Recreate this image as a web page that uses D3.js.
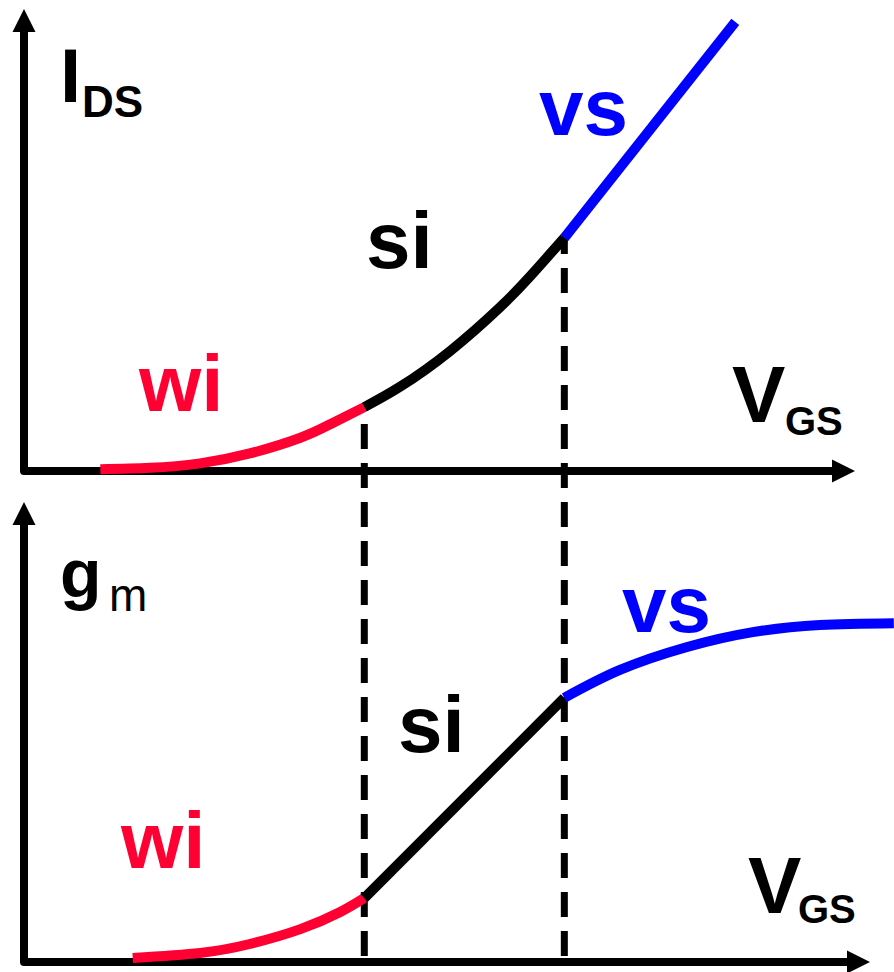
<!DOCTYPE html>
<html>
<head>
<meta charset="utf-8">
<script src="https://cdn.jsdelivr.net/npm/d3@7"></script>
<style>
  html, body { margin: 0; padding: 0; background: #fff; }
  svg { display: block; }
  text { font-family: "Liberation Sans", Arial, sans-serif; }
</style>
</head>
<body>
<div id="chart"></div>
<script>
// Gate voltage (arbitrary units) where the operating regions meet
const boundaries = [4.10, 6.51];

// Drain current I_DS versus V_GS, one array per inversion region
const idsWeak   = [[0.92, 0.04], [1.52, 0.07], [2.12, 0.17], [2.72, 0.39], [3.33, 0.74], [3.69, 1.04], [4.10, 1.42]];
const idsStrong = [[4.10, 1.42], [4.53, 1.87], [5.13, 2.66], [5.73, 3.63], [6.10, 4.33], [6.51, 5.18]];
const idsVel    = [[6.51, 5.18], [8.57, 9.98]];

// Transconductance g_m versus V_GS
const gmWeak   = [[1.31, 0.09], [2.12, 0.20], [2.72, 0.40], [3.33, 0.73], [3.81, 1.11], [4.10, 1.42]];
const gmStrong = [[4.10, 1.42], [6.51, 5.87]];
const gmVel    = [[6.51, 5.87], [7.18, 6.49], [7.99, 7.00], [8.78, 7.33], [9.59, 7.49], [10.48, 7.53]];

const regionLabels = ["wi", "si", "vs"];
const regionColors = ["#ff0033", "#000000", "#0000ff"];

const W = 894, H = 972;
const svg = d3.select("#chart").append("svg")
  .attr("width", W).attr("height", H)
  .attr("viewBox", `0 0 ${W} ${H}`);

const x = d3.scaleLinear().domain([0, 10]).range([24, 854]);
const yTop = d3.scaleLinear().domain([0, 10]).range([471, 21]);
const yBot = d3.scaleLinear().domain([0, 10]).range([962, 512]);

// Dashed region boundaries spanning both panels
const dashPeriod = 39, dashPhase = 268;
boundaries.forEach((b, i) => {
  const yStart = i === 0 ? yTop(idsWeak[idsWeak.length - 1][1]) + 4 : yTop(idsVel[0][1]) - 2;
  const off = ((yStart - dashPhase) % dashPeriod + dashPeriod) % dashPeriod;
  svg.append("line")
    .attr("x1", x(b)).attr("x2", x(b))
    .attr("y1", yStart).attr("y2", yBot(0))
    .attr("stroke", "#000").attr("stroke-width", 7)
    .attr("stroke-dasharray", "25 14")
    .attr("stroke-dashoffset", off);
});

// Axes with arrowheads
function axes(yScale, yTip, xTip) {
  const x0 = x(0), y0 = yScale(0), ah = 23, hw = 11.5;
  svg.append("path")
    .attr("d", `M${x0},${yTip + ah} L${x0},${y0} L${xTip - ah},${y0}`)
    .attr("fill", "none").attr("stroke", "#000").attr("stroke-width", 8)
    .attr("stroke-linejoin", "round");
  svg.append("path")
    .attr("d", `M${x0},${yTip} L${x0 - hw},${yTip + ah} L${x0 + hw},${yTip + ah} Z`)
    .attr("fill", "#000");
  svg.append("path")
    .attr("d", `M${xTip},${y0} L${xTip - ah},${y0 - hw} L${xTip - ah},${y0 + hw} Z`)
    .attr("fill", "#000");
}
axes(yTop, 9, 855);
axes(yBot, 502, 870);

// Curves, coloured by region
function drawSeries(data, yScale, color) {
  const line = d3.line().x(d => x(d[0])).y(d => yScale(d[1])).curve(d3.curveNatural);
  svg.append("path").datum(data)
    .attr("d", line)
    .attr("fill", "none").attr("stroke", color)
    .attr("stroke-width", 10).attr("stroke-linecap", "butt");
}
[idsWeak, idsStrong, idsVel].forEach((s, i) => drawSeries(s, yTop, regionColors[i]));
[gmWeak, gmStrong, gmVel].forEach((s, i) => drawSeries(s, yBot, regionColors[i]));

// Text helpers
function label(txt, px, py, size, color, weight) {
  svg.append("text").attr("x", px).attr("y", py)
    .attr("font-size", size).attr("font-weight", weight || "bold")
    .attr("fill", color).text(txt);
}

// Axis titles
label("I", 60, 102, 76, "#000");
label("DS", 82, 117, 44, "#000");
label("V", 732, 422, 80, "#000");
label("GS", 785, 435, 40, "#000");
label("g", 60, 597, 68, "#000", "bold");
label("m", 109, 611, 46, "#000", "normal");
label("V", 748, 913, 80, "#000");
label("GS", 798, 923, 40, "#000");

// Region labels
const topPos = [[139, 411], [366, 268], [539, 135]];
const botPos = [[121, 868], [398, 752], [622, 632]];
regionLabels.forEach((t, i) => {
  label(t, topPos[i][0], topPos[i][1], 80, regionColors[i]);
  label(t, botPos[i][0], botPos[i][1], 80, regionColors[i]);
});
</script>
</body>
</html>
